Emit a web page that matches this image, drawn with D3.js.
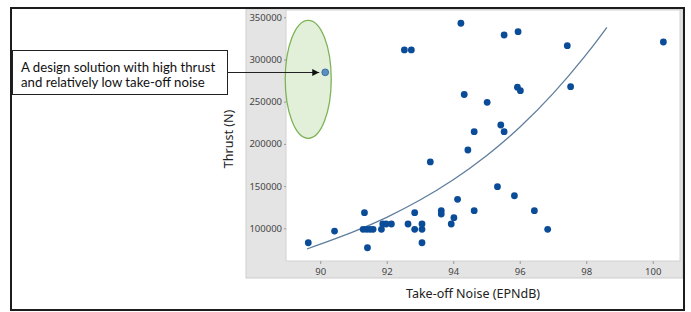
<!DOCTYPE html>
<html>
<head>
<meta charset="utf-8">
<script src="https://cdn.jsdelivr.net/npm/d3@7"></script>
<style>
  body { margin: 0; background: #fff; }
  svg { display: block; }
</style>
</head>
<body>
<div id="chart"></div>
<script>
// take-off noise (EPNdB) vs thrust (N)
const noise = [94.23, 92.53, 92.74, 94.33, 94.44, 95.53, 95.95, 97.43, 100.32, 95.02,
               95.93, 96.02, 97.53, 95.43, 95.53, 94.63, 93.31, 91.33, 90.43, 89.64,
               91.42, 91.29, 91.40, 91.50, 91.59, 91.84, 91.88, 91.98, 92.14, 92.64,
               92.84, 92.84, 93.06, 93.06, 93.06, 93.64, 93.64, 93.94, 94.02, 94.13,
               95.33, 95.84, 94.63, 96.44, 96.84];
const thrust = [342900, 311300, 311300, 258500, 192800, 329000, 332900, 316400, 320700, 249300,
                267100, 263000, 267800, 222400, 214500, 214500, 178600, 118500, 96800, 82900,
                77000, 98800, 98800, 98800, 98800, 98800, 105100, 105100, 105100, 105100,
                118500, 98800, 105100, 98800, 82900, 120900, 116900, 105100, 112600, 134400,
                149300, 138600, 120900, 120900, 98800];

// the highlighted design
const bestNoise = 90.15;
const bestThrust = 284800;

// fitted trend line, sampled along the curve
const fitNoise = [89.6, 91, 92, 93, 94, 95, 96, 97, 98, 98.62];
const fitThrust = [75500, 95500, 112500, 132900, 156900, 185200, 218700, 258300, 305000, 338000];

const xTicks = [90, 92, 94, 96, 98, 100];
const yTicks = [100000, 150000, 200000, 250000, 300000, 350000];

const noteLines = ["A design solution with high thrust", "and relatively low take-off noise"];
const xTitle = "Take-off Noise (EPNdB)";
const yTitle = "Thrust (N)";

const W = 691, H = 312;
const plot = {left: 286, top: 10, right: 680, bottom: 261};

const svg = d3.select("#chart").append("svg")
    .attr("width", W)
    .attr("height", H);

svg.append("rect").attr("width", W).attr("height", H).attr("fill", "#fff");

// gray minitab panel
svg.append("rect")
    .attr("x", 246).attr("y", 9)
    .attr("width", 437).attr("height", 269)
    .attr("fill", "#e4e4e4")
    .attr("stroke", "#cdcdcd");

svg.append("rect")
    .attr("x", plot.left).attr("y", plot.top)
    .attr("width", plot.right - plot.left).attr("height", plot.bottom - plot.top)
    .attr("fill", "#fff")
    .attr("stroke", "#d2d2d2");

const x = d3.scaleLinear().domain([88.97, 100.82]).range([plot.left, plot.right]);
const y = d3.scaleLinear().domain([61300, 358600]).range([plot.bottom, plot.top]);

const xAxis = svg.append("g")
    .attr("transform", `translate(0,${plot.bottom})`)
    .call(d3.axisBottom(x).tickValues(xTicks).tickSize(3).tickPadding(4).tickFormat(d3.format("d")));
const yAxis = svg.append("g")
    .attr("transform", `translate(${plot.left},0)`)
    .call(d3.axisLeft(y).tickValues(yTicks).tickSize(2).tickPadding(2).tickFormat(d3.format("d")));

[xAxis, yAxis].forEach(a => {
    a.select(".domain").remove();
    a.selectAll(".tick line").attr("stroke", "#9a9a9a");
    a.selectAll(".tick text")
        .attr("fill", "#444")
        .style("font-family", "'Noto Sans', sans-serif")
        .style("font-size", "9.5px");
});

svg.append("text")
    .attr("x", 473).attr("y", 298)
    .attr("text-anchor", "middle")
    .style("font-family", "'Noto Sans', sans-serif")
    .style("font-size", "12.5px")
    .attr("fill", "#222")
    .text(xTitle);

svg.append("text")
    .attr("transform", "translate(233,139) rotate(-90)")
    .attr("text-anchor", "middle")
    .style("font-family", "'Noto Sans', sans-serif")
    .style("font-size", "12.5px")
    .attr("fill", "#222")
    .text(yTitle);

// green highlight ellipse
svg.append("ellipse")
    .attr("cx", x(bestNoise) - 17).attr("cy", y(bestThrust) + 7)
    .attr("rx", 23).attr("ry", 59)
    .attr("fill", "#e3f0d9")
    .attr("stroke", "#7db356")
    .attr("stroke-width", 1.3);

// trend line
const line = d3.line().x(d => x(d[0])).y(d => y(d[1])).curve(d3.curveBasis);
svg.append("path")
    .datum(fitNoise.map((n, i) => [n, fitThrust[i]]))
    .attr("d", line)
    .attr("fill", "none")
    .attr("stroke", "#5f7d9c")
    .attr("stroke-width", 1.3);

svg.append("g").selectAll("circle")
    .data(noise.map((n, i) => [n, thrust[i]]))
    .join("circle")
    .attr("cx", d => x(d[0]))
    .attr("cy", d => y(d[1]))
    .attr("r", 3.4)
    .attr("fill", "#0b4c99");

svg.append("circle")
    .attr("cx", x(bestNoise)).attr("cy", y(bestThrust))
    .attr("r", 3.4)
    .attr("fill", "#5b8fc0")
    .attr("stroke", "#2f5f95")
    .attr("stroke-width", 0.8);

// annotation box + arrow
svg.append("defs").append("marker")
    .attr("id", "arrow")
    .attr("viewBox", "0 0 10 10")
    .attr("refX", 10).attr("refY", 5)
    .attr("markerWidth", 7).attr("markerHeight", 7)
    .attr("markerUnits", "userSpaceOnUse")
    .attr("orient", "auto")
    .append("path").attr("d", "M0,0 L10,5 L0,10 Z").attr("fill", "#111");

svg.append("line")
    .attr("x1", 228).attr("y1", 72.5)
    .attr("x2", x(bestNoise) - 6).attr("y2", 72.5)
    .attr("stroke", "#222")
    .attr("stroke-width", 1)
    .attr("marker-end", "url(#arrow)");

svg.append("rect")
    .attr("x", 12.5).attr("y", 50.5)
    .attr("width", 215).attr("height", 44)
    .attr("fill", "#fff")
    .attr("stroke", "#222")
    .attr("stroke-width", 1);

svg.append("g").selectAll("text")
    .data(noteLines)
    .join("text")
    .attr("x", 21)
    .attr("y", (d, i) => 72 + i * 15)
    .style("font-family", "Lato, sans-serif")
    .style("font-size", "13.2px")
    .attr("fill", "#111")
    .text(d => d);

// outer frame
svg.append("rect")
    .attr("x", 11).attr("y", 8)
    .attr("width", 673).attr("height", 302)
    .attr("fill", "none")
    .attr("stroke", "#1c1c1c")
    .attr("stroke-width", 2);
</script>
</body>
</html>
